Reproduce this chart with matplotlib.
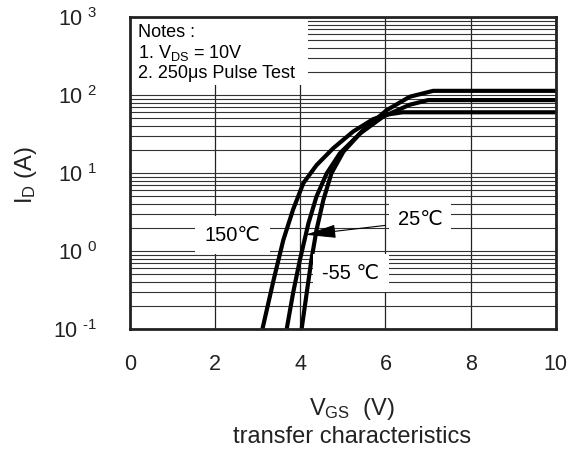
import matplotlib
matplotlib.use('Agg')
import matplotlib.pyplot as plt
import matplotlib.ticker as ticker
from matplotlib.patches import Rectangle

plt.rcParams['font.family'] = ['Liberation Sans', 'DejaVu Sans']
plt.rcParams['mathtext.fontset'] = 'custom'
plt.rcParams['mathtext.rm'] = 'Liberation Sans'

# curves: VGS (V), ID (A)
vgs_150 = [3.11, 3.37, 3.60, 3.83, 4.07, 4.38, 4.77, 5.24, 5.71, 6.03, 6.4, 10.0]
id_150 = [0.1, 0.42, 1.38, 3.4, 7.4, 12.6, 20.7, 34, 49, 56, 60, 60]

vgs_25 = [3.68, 3.83, 3.99, 4.19, 4.38, 4.62, 4.93, 5.40, 5.95, 6.57, 7.0, 10.0]
id_25 = [0.1, 0.29, 0.77, 2.26, 5.0, 9.9, 17.9, 32, 53, 75, 86, 86]

vgs_m55 = [4.03, 4.15, 4.26, 4.38, 4.54, 4.73, 5.01, 5.48, 6.03, 6.57, 7.12, 10.0]
id_m55 = [0.1, 0.29, 0.77, 1.86, 4.5, 9.9, 18.7, 35.7, 64, 95, 113, 113]

x_ticks = [0, 2, 4, 6, 8, 10]
y_ticks = [0.1, 1, 10, 100, 1000]
y_tick_labels = ['$\\mathregular{10^{\\ \u20101}}$', r'$\mathregular{10^{\ 0}}$', r'$\mathregular{10^{\ 1}}$',
                 r'$\mathregular{10^{\ 2}}$', r'$\mathregular{10^{\ 3}}$']

fig = plt.figure(figsize=(5.79, 4.54), dpi=100)
ax = fig.add_axes([0.2245, 0.2753, 0.7355, 0.6873])

ax.set_yscale('log')
ax.set_xlim(0, 10)
ax.set_ylim(0.1, 1000)

ax.xaxis.set_major_locator(ticker.FixedLocator(x_ticks))
ax.yaxis.set_major_locator(ticker.FixedLocator(y_ticks))
ax.yaxis.set_major_formatter(ticker.FixedFormatter(y_tick_labels))
ax.yaxis.set_minor_locator(ticker.LogLocator(base=10, subs=range(2, 10)))
ax.yaxis.set_minor_formatter(ticker.NullFormatter())

ax.grid(True, which='major', axis='x', color='#222222', lw=0.9)
ax.grid(True, which='both', axis='y', color='#333333', lw=0.8)
ax.set_axisbelow(True)

ax.tick_params(which='both', length=0)
ax.tick_params(axis='x', labelsize=15.5, pad=18, colors='#222222')
ax.tick_params(axis='y', labelsize=15.5, pad=24, colors='#222222')

for s in ax.spines.values():
    s.set_linewidth(2)
    s.set_color('#222222')

ax.plot(vgs_150, id_150, color='black', lw=3, solid_capstyle='butt')
ax.plot(vgs_25, id_25, color='black', lw=3, solid_capstyle='butt')
ax.plot(vgs_m55, id_m55, color='black', lw=3, solid_capstyle='butt')

# notes box
ax.add_patch(Rectangle((0, 0.782), 0.418, 0.218, transform=ax.transAxes,
                       facecolor='white', edgecolor='none', zorder=2))
ax.text(0.018, 0.949, 'Notes :', transform=ax.transAxes, fontsize=13, va='center', zorder=3)
ax.text(0.018, 0.885, r'1. V$\mathregular{_{DS}}$ = 10V', transform=ax.transAxes,
        fontsize=13, va='center', zorder=3)
ax.text(0.018, 0.818, '2. 250μs Pulse Test', transform=ax.transAxes, fontsize=13,
        va='center', zorder=3)

ax.text(2.4, 1.6, '150℃', fontsize=14.5, ha='center', va='center',
        bbox=dict(facecolor='white', edgecolor='none', pad=7), zorder=3)
ax.text(6.81, 2.57, '25℃', fontsize=14.5, ha='center', va='center',
        bbox=dict(facecolor='white', edgecolor='none', pad=6), zorder=3)
ax.text(5.19, 0.52, '-55 ℃', fontsize=14.5, ha='center', va='center',
        bbox=dict(facecolor='white', edgecolor='none', pad=7), zorder=3)
ax.annotate('', xy=(4.06, 1.6), xytext=(6.06, 2.15),
            arrowprops=dict(arrowstyle='-|>,head_length=1.9,head_width=0.42', color='black', lw=0.8),
            zorder=4)

fig.text(0.608, 0.099, r'V$\mathregular{_{GS}}$  (V)', fontsize=17, ha='center', va='center',
         color='#222222')
fig.text(0.608, 0.037, 'transfer characteristics', fontsize=17, ha='center', va='center',
         color='#222222')
fig.text(0.045, 0.6145, r'I$\mathregular{_D}$ (A)', fontsize=17, ha='center', va='center',
         rotation=90, color='#222222')

fig.savefig('out.png', dpi=100)
